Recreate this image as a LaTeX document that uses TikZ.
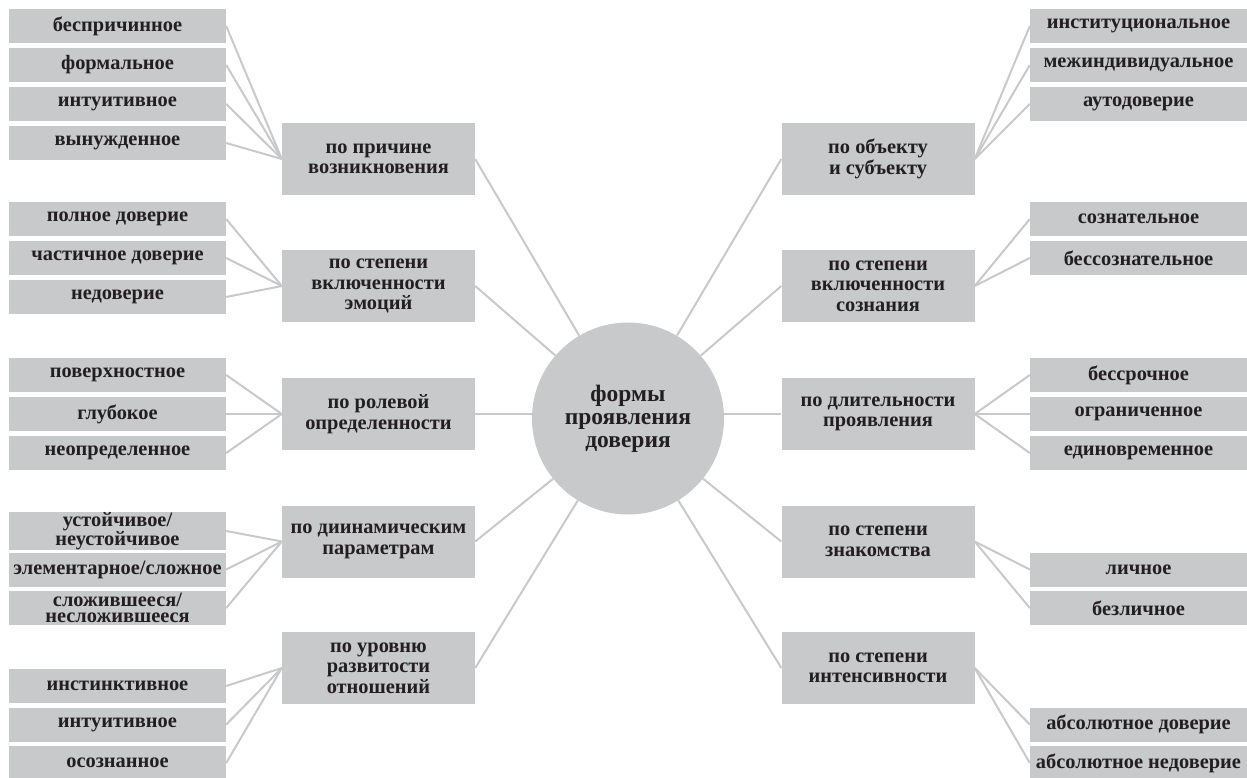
\documentclass[tikz,border=0pt]{standalone}
\usepackage{fontspec}
\setmainfont{Liberation Serif}
\definecolor{boxgray}{HTML}{C8C9CB}
\definecolor{linegray}{HTML}{C9C9C9}
\definecolor{ink}{HTML}{231F20}

\begin{document}
\begin{tikzpicture}[x=1pt,y=-1pt,
  every text node part/.style={align=center},
  leaf/.style={fill=boxgray,minimum width=217pt,minimum height=34pt,inner sep=0pt,text=ink,font=\fontsize{20.4}{16.5}\selectfont\bfseries},
  group/.style={fill=boxgray,minimum width=193pt,minimum height=72pt,inner sep=0pt,text=ink,font=\fontsize{20.4}{20.5}\selectfont\bfseries},
  hub/.style={fill=boxgray,circle,minimum size=192pt,inner sep=0pt,text=ink,font=\fontsize{23.5}{23}\selectfont\bfseries},
  link/.style={draw=linegray,line width=2pt}
]
%general params
\def\lx{117.5}  %left leaves
\def\gx{378.5}  %left groups
\def\rgx{878}   %right groups
\def\rx{1138.5} %right leaves

\useasboundingbox (0,0) rectangle (1247,778);

\node[hub] (hub) at (628,418.5) {формы\\проявления\\доверия};

% left side
  \node[group] (g1) at (\gx,159) {по причине\\возникновения};
  \node[leaf] (a1) at (\lx,26)  {беспричинное};
  \node[leaf] (a2) at (\lx,65)  {формальное};
  \node[leaf] (a3) at (\lx,104) {интуитивное};
  \node[leaf] (a4) at (\lx,143) {вынужденное};

  \node[group] (g2) at (\gx,286) {по степени\\включенности\\эмоций};
  \node[leaf] (b1) at (\lx,219) {полное доверие};
  \node[leaf] (b2) at (\lx,258) {частичное доверие};
  \node[leaf] (b3) at (\lx,297) {недоверие};

  \node[group] (g3) at (\gx,414) {по ролевой\\определенности};
  \node[leaf] (c1) at (\lx,375) {поверхностное};
  \node[leaf] (c2) at (\lx,414) {глубокое};
  \node[leaf] (c3) at (\lx,453) {неопределенное};

  \node[group] (g4) at (\gx,541.5) {по диинамическим\\параметрам};
  \node[leaf] (d1) at (\lx,531)   {устойчивое/\\неустойчивое};
  \node[leaf] (d2) at (\lx,569.5) {элементарное/сложное};
  \node[leaf] (d3) at (\lx,608)   {сложившееся/\\несложившееся};

  \node[group] (g5) at (\gx,668) {по уровню\\развитости\\отношений};
  \node[leaf] (e1) at (\lx,686)   {инстинктивное};
  \node[leaf] (e2) at (\lx,724.5) {интуитивное};
  \node[leaf] (e3) at (\lx,763)   {осознанное};

% right side
  \node[group] (h1) at (\rgx,159) {по объекту\\и субъекту};
  \node[leaf] (p1) at (\rx,26)  {институциональное};
  \node[leaf] (p2) at (\rx,65)  {межиндивидуальное};
  \node[leaf] (p3) at (\rx,104) {аутодоверие};

  \node[group] (h2) at (\rgx,286) {по степени\\включенности\\сознания};
  \node[leaf] (q1) at (\rx,219) {сознательное};
  \node[leaf] (q2) at (\rx,258) {бессознательное};

  \node[group] (h3) at (\rgx,414) {по длительности\\проявления};
  \node[leaf] (r1) at (\rx,375) {бессрочное};
  \node[leaf] (r2) at (\rx,414) {ограниченное};
  \node[leaf] (r3) at (\rx,453) {единовременное};

  \node[group] (h4) at (\rgx,541.5) {по степени\\знакомства};
  \node[leaf] (s1) at (\rx,569.5) {личное};
  \node[leaf] (s2) at (\rx,608)   {безличное};

  \node[group] (h5) at (\rgx,668) {по степени\\интенсивности};
  \node[leaf] (t1) at (\rx,724.5) {абсолютное доверие};
  \node[leaf] (t2) at (\rx,763)   {абсолютное недоверие};

% hub links
  \draw[link] (hub) -- (g1.east);
  \draw[link] (hub) -- (g2.east);
  \draw[link] (g3.east) -- (g3.east -| hub.west);
  \draw[link] (hub) -- (g4.east);
  \draw[link] (hub) -- (g5.east);
  \draw[link] (hub) -- (h1.west);
  \draw[link] (hub) -- (h2.west);
  \draw[link] (h3.west) -- (h3.west -| hub.east);
  \draw[link] (hub) -- (h4.west);
  \draw[link] (hub) -- (h5.west);

% leaf links
  \draw[link] (a1.east) -- (g1.west);
  \draw[link] (a2.east) -- (g1.west);
  \draw[link] (a3.east) -- (g1.west);
  \draw[link] (a4.east) -- (g1.west);
  \draw[link] (b1.east) -- (g2.west);
  \draw[link] (b2.east) -- (g2.west);
  \draw[link] (b3.east) -- (g2.west);
  \draw[link] (c1.east) -- (g3.west);
  \draw[link] (c2.east) -- (g3.west);
  \draw[link] (c3.east) -- (g3.west);
  \draw[link] (d1.east) -- (g4.west);
  \draw[link] (d2.east) -- (g4.west);
  \draw[link] (d3.east) -- (g4.west);
  \draw[link] (e1.east) -- (g5.west);
  \draw[link] (e2.east) -- (g5.west);
  \draw[link] (e3.east) -- (g5.west);

  \draw[link] (p1.west) -- (h1.east);
  \draw[link] (p2.west) -- (h1.east);
  \draw[link] (p3.west) -- (h1.east);
  \draw[link] (q1.west) -- (h2.east);
  \draw[link] (q2.west) -- (h2.east);
  \draw[link] (r1.west) -- (h3.east);
  \draw[link] (r2.west) -- (h3.east);
  \draw[link] (r3.west) -- (h3.east);
  \draw[link] (s1.west) -- (h4.east);
  \draw[link] (s2.west) -- (h4.east);
  \draw[link] (t1.west) -- (h5.east);
  \draw[link] (t2.west) -- (h5.east);

\end{tikzpicture}
\end{document}
